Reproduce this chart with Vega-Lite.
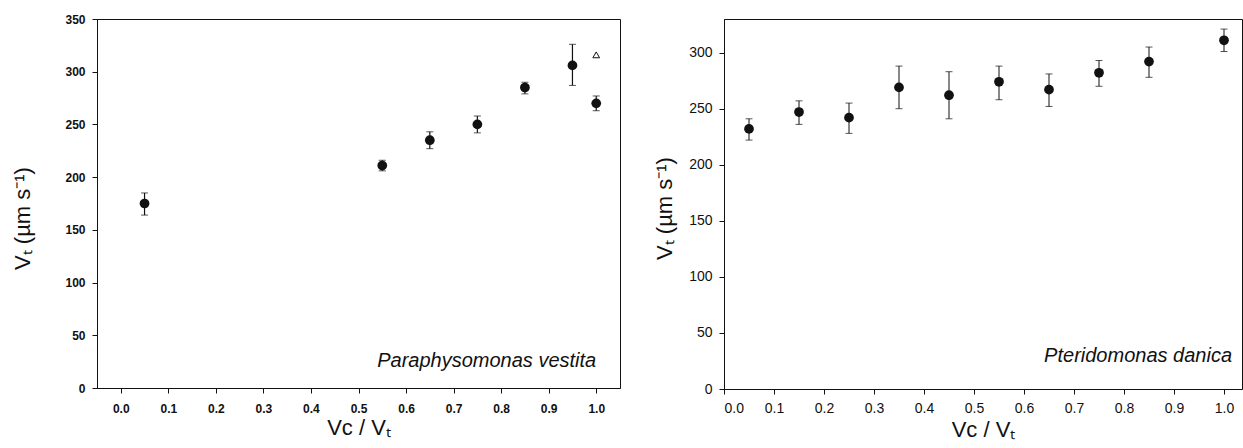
{
  "$schema": "https://vega.github.io/schema/vega-lite/v6.json",
  "padding": {"left": 11, "top": 12, "right": 0, "bottom": 0},
  "background": "white",
  "spacing": 32,
  "config": {
    "view": {"stroke": "#111", "strokeWidth": 1},
    "axis": {"grid": false, "domainColor": "#111", "tickColor": "#111", "labelColor": "#111", "titleColor": "#111", "labelFont": "Liberation Sans", "titleFont": "Liberation Sans", "tickSize": 5, "titleFontWeight": "normal"}
  },
  "hconcat": [
    {
      "width": 523,
      "height": 369,
      "layer": [
        {"data": {"name": "left"},
         "mark": {"type": "rule", "color": "#111", "strokeWidth": 1.2},
         "encoding": {
           "x": {"field": "x", "type": "quantitative", "scale": {"domain": [-0.05, 1.05], "nice": false, "zero": false},
             "axis": {"values": [0, 0.1, 0.2, 0.3, 0.4, 0.5, 0.6, 0.7, 0.8, 0.9, 1.0], "format": ".1f", "labelFontWeight": "bold", "labelFontSize": 12, "labelPadding": 10, "title": "Vc / Vₜ", "titleFontSize": 22, "titlePadding": 3}},
           "y": {"field": "lo", "type": "quantitative", "title": "Vₜ  (µm s⁻¹)", "scale": {"domain": [0, 350], "nice": false},
            "axis": {"values": [0, 50, 100, 150, 200, 250, 300, 350], "labelFontWeight": "bold", "labelFontSize": 12, "labelPadding": 7, "titleFontSize": 22, "titlePadding": 30, "titleY": 199}},
           "y2": {"field": "hi"}}},
        {"data": {"name": "left"},
         "mark": {"type": "tick", "orient": "horizontal", "size": 7, "thickness": 1, "color": "#111"},
         "encoding": {"x": {"field": "x", "type": "quantitative"}, "y": {"field": "lo", "type": "quantitative", "title": "Vₜ  (µm s⁻¹)"}}},
        {"data": {"name": "left"},
         "mark": {"type": "tick", "orient": "horizontal", "size": 7, "thickness": 1, "color": "#111"},
         "encoding": {"x": {"field": "x", "type": "quantitative"}, "y": {"field": "hi", "type": "quantitative", "title": "Vₜ  (µm s⁻¹)"}}},
        {"data": {"name": "left"},
         "mark": {"type": "point", "filled": true, "size": 95, "color": "#111", "opacity": 1},
         "encoding": {"x": {"field": "x", "type": "quantitative"}, "y": {"field": "y", "type": "quantitative", "title": "Vₜ  (µm s⁻¹)"}}},
        {"data": {"name": "leftopen"},
         "mark": {"type": "point", "shape": "triangle-up", "filled": false, "size": 45, "color": "#111", "strokeWidth": 1, "opacity": 1},
         "encoding": {"x": {"field": "x", "type": "quantitative"}, "y": {"field": "y", "type": "quantitative", "title": "Vₜ  (µm s⁻¹)"}}},
        {"data": {"name": "leftlabel"},
         "mark": {"type": "text", "font": "Liberation Sans", "fontStyle": "italic", "fontSize": 20, "align": "right", "baseline": "middle", "color": "#111"},
         "encoding": {"x": {"datum": 1.0, "type": "quantitative"}, "y": {"datum": 26, "type": "quantitative"}, "text": {"field": "label", "type": "nominal"}}}
      ]
    },
    {
      "width": 518,
      "height": 370,
      "layer": [
        {"data": {"name": "right"},
         "mark": {"type": "rule", "color": "#111", "strokeWidth": 1},
         "encoding": {
           "x": {"field": "x", "type": "quantitative", "scale": {"domain": [0, 1.036], "nice": false, "zero": false},
             "axis": {"values": [0, 0.1, 0.2, 0.3, 0.4, 0.5, 0.6, 0.7, 0.8, 0.9, 1.0], "format": ".1f", "labelFontSize": 14, "labelPadding": 7, "title": "Vc / Vₜ", "titleFontSize": 22, "titlePadding": 4}},
           "y": {"field": "lo", "type": "quantitative", "title": "Vₜ  (µm s⁻¹)", "scale": {"domain": [0, 330], "nice": false},
            "axis": {"values": [0, 50, 100, 150, 200, 250, 300], "labelFontSize": 14, "labelPadding": 7, "titleFontSize": 22, "titlePadding": 12, "titleY": 189}},
           "y2": {"field": "hi"}}},
        {"data": {"name": "right"},
         "mark": {"type": "tick", "orient": "horizontal", "size": 7, "thickness": 1, "color": "#111"},
         "encoding": {"x": {"field": "x", "type": "quantitative"}, "y": {"field": "lo", "type": "quantitative", "title": "Vₜ  (µm s⁻¹)"}}},
        {"data": {"name": "right"},
         "mark": {"type": "tick", "orient": "horizontal", "size": 7, "thickness": 1, "color": "#111"},
         "encoding": {"x": {"field": "x", "type": "quantitative"}, "y": {"field": "hi", "type": "quantitative", "title": "Vₜ  (µm s⁻¹)"}}},
        {"data": {"name": "right"},
         "mark": {"type": "point", "filled": true, "size": 95, "color": "#111", "opacity": 1},
         "encoding": {"x": {"field": "x", "type": "quantitative"}, "y": {"field": "y", "type": "quantitative", "title": "Vₜ  (µm s⁻¹)"}}},
        {"data": {"name": "rightlabel"},
         "mark": {"type": "text", "font": "Liberation Sans", "fontStyle": "italic", "fontSize": 20, "align": "right", "baseline": "middle", "color": "#111"},
         "encoding": {"x": {"datum": 1.016, "type": "quantitative"}, "y": {"datum": 29, "type": "quantitative"}, "text": {"field": "label", "type": "nominal"}}}
      ]
    }
  ],
  "datasets": {
    "left": [
      {"x": 0.05, "y": 175, "lo": 164, "hi": 185},
      {"x": 0.55, "y": 211, "lo": 206, "hi": 216},
      {"x": 0.65, "y": 235, "lo": 227, "hi": 243},
      {"x": 0.75, "y": 250, "lo": 242, "hi": 258},
      {"x": 0.85, "y": 285, "lo": 279, "hi": 290},
      {"x": 0.95, "y": 306, "lo": 287, "hi": 326},
      {"x": 1.0, "y": 270, "lo": 263, "hi": 277}
    ],
    "leftopen": [{"x": 1.0, "y": 316}],
    "leftlabel": [{"label": "Paraphysomonas vestita"}],
    "right": [
      {"x": 0.05, "y": 232, "lo": 222, "hi": 241},
      {"x": 0.15, "y": 247, "lo": 236, "hi": 257},
      {"x": 0.25, "y": 242, "lo": 228, "hi": 255},
      {"x": 0.35, "y": 269, "lo": 250, "hi": 288},
      {"x": 0.45, "y": 262, "lo": 241, "hi": 283},
      {"x": 0.55, "y": 274, "lo": 258, "hi": 288},
      {"x": 0.65, "y": 267, "lo": 252, "hi": 281},
      {"x": 0.75, "y": 282, "lo": 270, "hi": 293},
      {"x": 0.85, "y": 292, "lo": 278, "hi": 305},
      {"x": 1.0, "y": 311, "lo": 301, "hi": 321}
    ],
    "rightlabel": [{"label": "Pteridomonas danica"}]
  }
}
